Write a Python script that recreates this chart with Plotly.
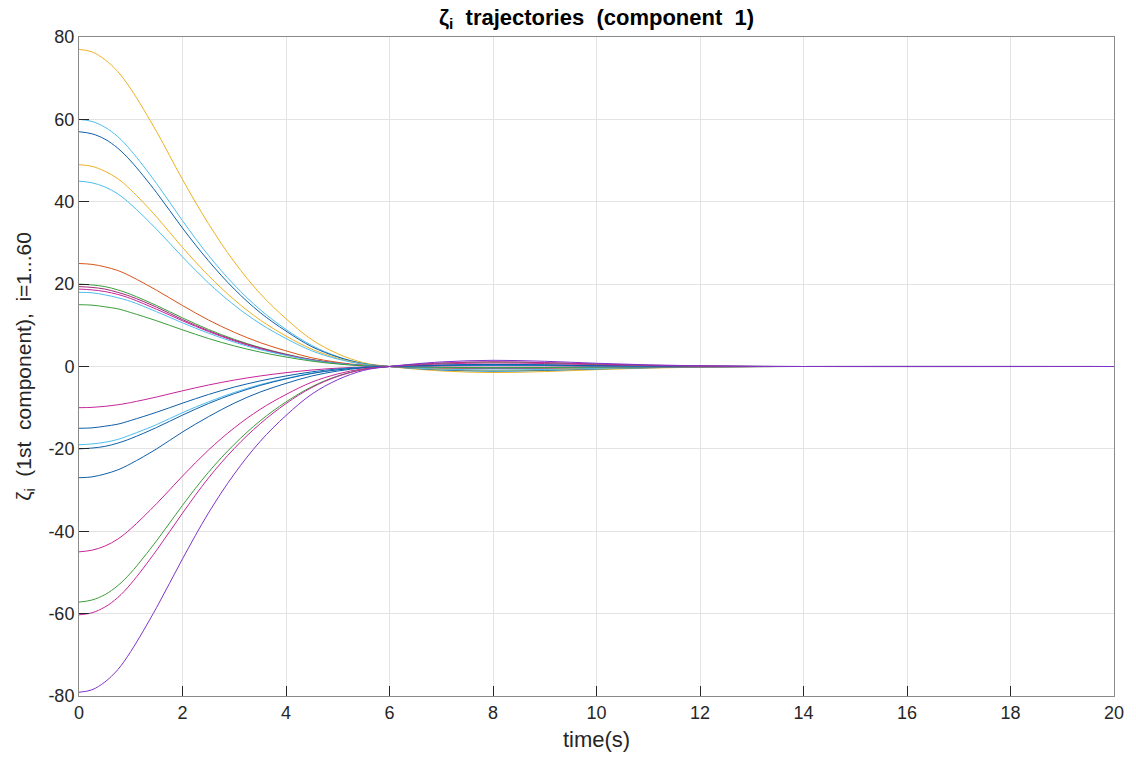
import plotly.graph_objects as go

# time samples (s)
T = [0, 0.25, 0.5, 0.75, 1, 1.5, 2, 2.5, 3, 3.5, 4, 4.5, 5, 5.5, 6, 7, 8, 9, 10, 11, 12, 13, 14, 20]

# zeta_i first component trajectories
z01 = [77, 76.4, 74.5, 71.6, 67.4, 57.0, 45.4, 34.7, 25.4, 17.7, 11.6, 6.5, 3.1, 0.92, 0, -1.08, -1.46, -1.23, -0.77, -0.39, -0.15, -0.04, 0, 0]
z02 = [60, 59.5, 58.1, 55.8, 52.5, 44.4, 35.4, 27.0, 19.8, 13.8, 9.0, 5.1, 2.4, 0.72, 0, -0.84, -1.14, -0.96, -0.60, -0.30, -0.12, -0.03, 0, 0]
z03 = [57, 56.5, 55.2, 53.0, 49.9, 42.2, 33.6, 25.7, 18.8, 13.1, 8.6, 4.8, 2.3, 0.68, 0, -0.80, -1.08, -0.91, -0.57, -0.29, -0.11, -0.03, 0, 0]
z04 = [49, 48.6, 47.4, 45.6, 42.9, 36.3, 28.9, 22.1, 16.2, 11.3, 7.4, 4.2, 2.0, 0.59, 0, -0.69, -0.93, -0.78, -0.49, -0.25, -0.10, -0.02, 0, 0]
z05 = [45, 44.6, 43.6, 41.9, 39.4, 33.3, 26.6, 20.3, 14.9, 10.4, 6.8, 3.8, 1.8, 0.54, 0, -0.63, -0.86, -0.72, -0.45, -0.23, -0.09, -0.02, 0, 0]
z06 = [25, 24.8, 24.2, 23.3, 21.9, 18.5, 14.8, 11.3, 8.3, 5.8, 3.8, 2.1, 1.0, 0.30, 0, -0.35, -0.48, -0.40, -0.25, -0.13, -0.05, -0.01, 0, 0]
z07 = [20, 19.8, 19.4, 18.6, 17.5, 14.8, 11.8, 9.0, 6.6, 4.6, 3.0, 1.7, 0.8, 0.24, 0, -0.28, -0.38, -0.32, -0.20, -0.10, -0.04, -0.01, 0, 0]
z08 = [19.4, 19.2, 18.8, 18.0, 17.0, 14.4, 11.4, 8.7, 6.4, 4.5, 2.9, 1.6, 0.78, 0.23, 0, -0.27, -0.37, -0.31, -0.19, -0.10, -0.04, -0.01, 0, 0]
z09 = [18.8, 18.6, 18.2, 17.5, 16.5, 13.9, 11.1, 8.5, 6.2, 4.3, 2.8, 1.6, 0.75, 0.23, 0, -0.26, -0.36, -0.30, -0.19, -0.09, -0.04, -0.01, 0, 0]
z10 = [18, 17.9, 17.4, 16.7, 15.8, 13.3, 10.6, 8.1, 5.9, 4.1, 2.7, 1.5, 0.72, 0.22, 0, -0.25, -0.34, -0.29, -0.18, -0.09, -0.04, -0.01, 0, 0]
z11 = [15, 14.9, 14.5, 14.0, 13.1, 11.1, 8.9, 6.8, 5.0, 3.5, 2.3, 1.3, 0.6, 0.18, 0, -0.21, -0.29, -0.24, -0.15, -0.08, -0.03, -0.01, 0, 0]
z12 = [-10, -9.92, -9.68, -9.3, -8.75, -7.4, -5.9, -4.5, -3.3, -2.3, -1.5, -0.85, -0.4, -0.12, 0, 0.14, 0.19, 0.16, 0.10, 0.05, 0.02, 0.005, 0, 0]
z13 = [-15, -14.9, -14.5, -14.0, -13.1, -11.1, -8.9, -6.8, -5.0, -3.5, -2.3, -1.3, -0.6, -0.18, 0, 0.21, 0.29, 0.24, 0.15, 0.08, 0.03, 0.01, 0, 0]
z14 = [-19, -18.8, -18.4, -17.7, -16.6, -14.1, -11.2, -8.6, -6.3, -4.4, -2.9, -1.6, -0.76, -0.23, 0, 0.27, 0.36, 0.30, 0.19, 0.10, 0.04, 0.01, 0, 0]
z15 = [-20, -19.8, -19.4, -18.6, -17.5, -14.8, -11.8, -9.0, -6.6, -4.6, -3.0, -1.7, -0.8, -0.24, 0, 0.28, 0.38, 0.32, 0.20, 0.10, 0.04, 0.01, 0, 0]
z16 = [-27, -26.8, -26.1, -25.1, -23.6, -20.0, -15.9, -12.2, -8.9, -6.2, -4.1, -2.3, -1.1, -0.32, 0, 0.38, 0.51, 0.43, 0.27, 0.14, 0.05, 0.01, 0, 0]
z17 = [-45, -44.6, -43.6, -41.9, -39.4, -33.3, -26.6, -20.3, -14.9, -10.4, -6.8, -3.8, -1.8, -0.54, 0, 0.63, 0.86, 0.72, 0.45, 0.23, 0.09, 0.02, 0, 0]
z18 = [-57.2, -56.7, -55.4, -53.2, -50.1, -42.3, -33.7, -25.7, -18.9, -13.2, -8.6, -4.9, -2.3, -0.69, 0, 0.80, 1.09, 0.92, 0.57, 0.29, 0.11, 0.03, 0, 0]
z19 = [-60.3, -59.8, -58.4, -56.1, -52.8, -44.6, -35.6, -27.1, -19.9, -13.9, -9.0, -5.1, -2.4, -0.72, 0, 0.84, 1.15, 0.96, 0.60, 0.30, 0.12, 0.03, 0, 0]
z20 = [-79.1, -78.5, -76.6, -73.6, -69.2, -58.5, -46.7, -35.6, -26.1, -18.2, -11.9, -6.7, -3.2, -0.95, 0, 1.11, 1.50, 1.27, 0.79, 0.40, 0.16, 0.04, 0, 0]

SERIES = [z01, z02, z03, z04, z05, z06, z07, z08, z09, z10,
          z11, z12, z13, z14, z15, z16, z17, z18, z19, z20]

X_TICKS = [0, 2, 4, 6, 8, 10, 12, 14, 16, 18, 20]
Y_TICKS = [-80, -60, -40, -20, 0, 20, 40, 60, 80]
Y_TICK_TEXT = ["-80", "-60", "-40", "-20", "0", "20", "40", "60", "80"]

YELLOW = "#EDB120"
LBLUE = "#4DBEEE"
BLUE = "#0F5FA8"
RED = "#D95319"
GREEN = "#3A9E3A"
DMAG = "#A0287A"
MAG = "#C7259A"
PURPLE = "#8033CC"
COLORS = [YELLOW, LBLUE, BLUE, YELLOW, LBLUE, RED, GREEN, DMAG, MAG, LBLUE,
          GREEN, MAG, BLUE, LBLUE, BLUE, BLUE, MAG, GREEN, MAG, PURPLE]

fig = go.Figure()
for ys, c in zip(SERIES, COLORS):
    fig.add_trace(go.Scatter(x=T, y=ys, mode="lines",
                             line=dict(color=c, width=1, shape="spline", smoothing=1.0),
                             showlegend=False, hoverinfo="skip"))

FONT = "Liberation Sans, Arial, Helvetica, sans-serif"
NB = "\u00a0"
axis_common = dict(
    showgrid=True, gridcolor="#E3E3E3", gridwidth=1,
    showline=True, linecolor="#8A8A8A", linewidth=1, mirror=True,
    ticks="inside", ticklen=10, tickcolor="#262626", tickwidth=1,
    tickfont=dict(family=FONT, size=18, color="#262626"),
    zeroline=False,
)

fig.update_layout(
    width=1136, height=760,
    margin=dict(l=79, r=14, t=37, b=64),
    paper_bgcolor="white", plot_bgcolor="white",
    title=dict(text=f"<b>ζ<sub>i</sub>{NB}{NB}trajectories{NB}{NB}(component{NB}{NB}1)</b>",
               x=0.5, xref="paper", y=1 - 17 / 760, yanchor="middle",
               font=dict(family=FONT, size=22, color="black")),
    xaxis=dict(range=[0, 20], tickvals=X_TICKS,
               title=dict(text="time(s)", font=dict(family=FONT, size=22, color="#262626"), standoff=10),
               **axis_common),
    yaxis=dict(range=[-80, 80], tickvals=Y_TICKS, ticktext=Y_TICK_TEXT,
               title=dict(text=f"ζ<sub>i</sub>{NB}{NB}(1st{NB}{NB}component),{NB}{NB}i=1...60",
                          font=dict(family=FONT, size=21, color="#262626"), standoff=11),
               **axis_common),
)

fig.write_html("out.html")
